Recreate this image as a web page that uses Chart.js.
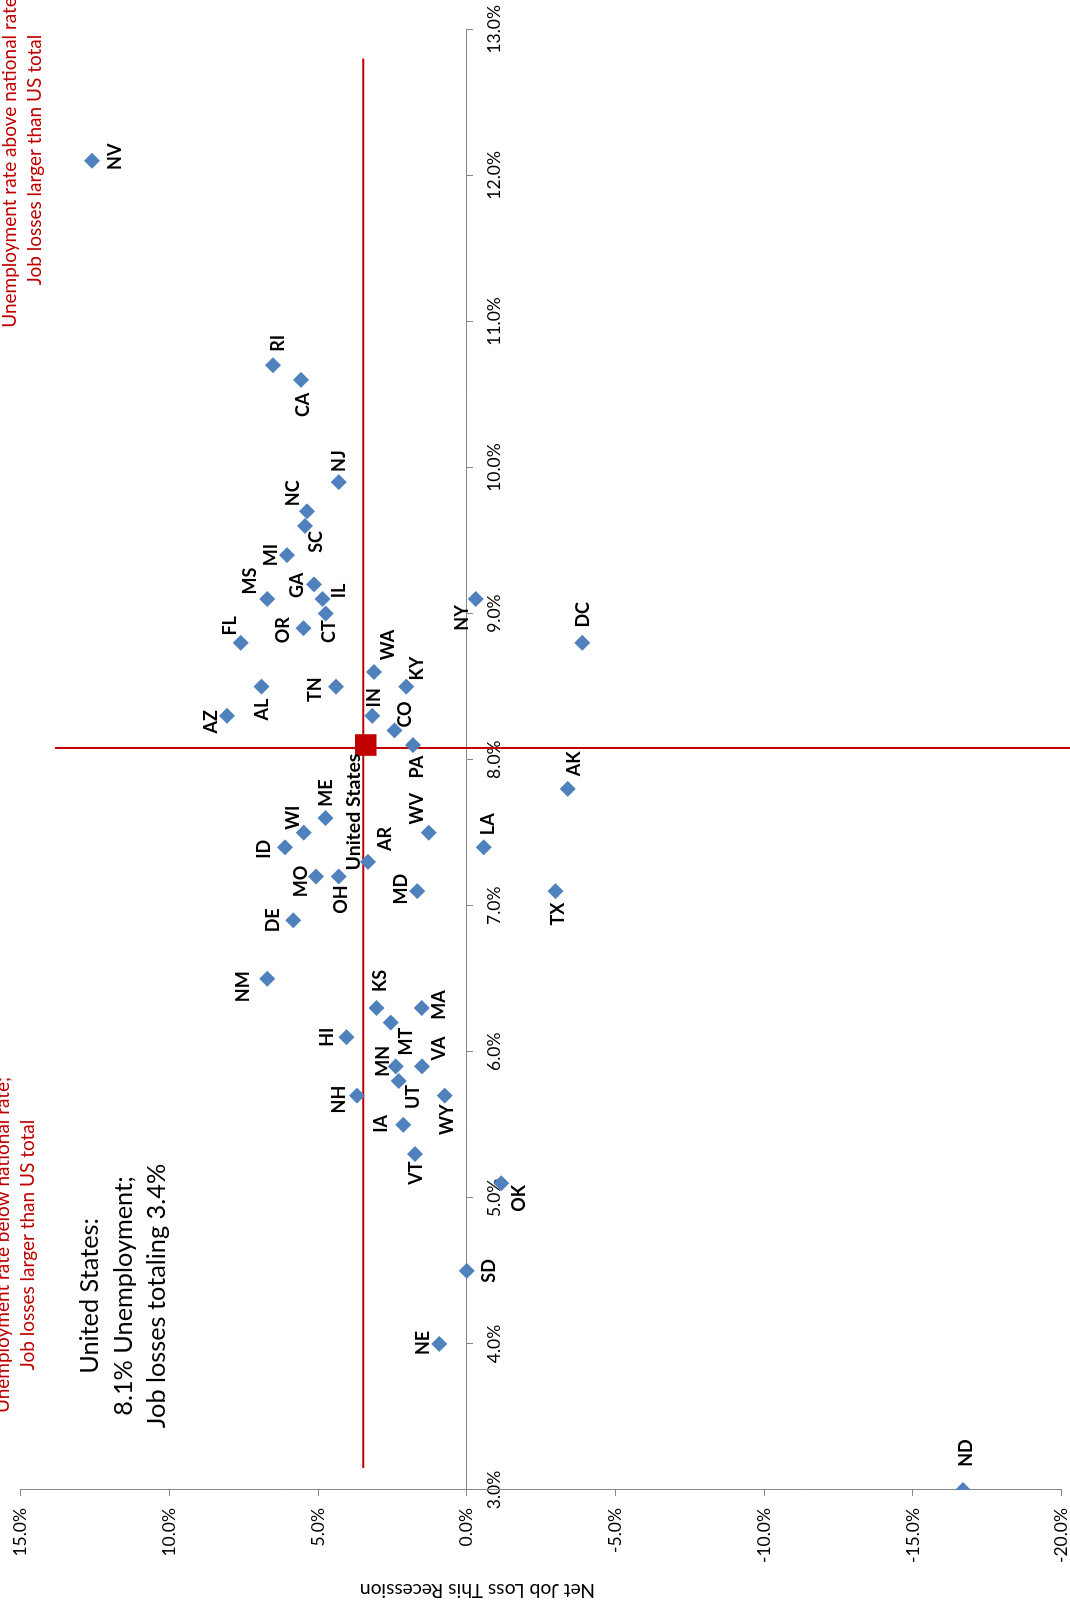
<!DOCTYPE html>
<html>
<head>
<meta charset="utf-8">
<script src="https://cdn.jsdelivr.net/npm/chart.js@4.4.1/dist/chart.umd.min.js"></script>
<style>
  html, body { margin: 0; padding: 0; background: #fff; }
  #page { position: relative; width: 1070px; height: 1610px; overflow: hidden; }
  /* chart is laid out landscape, then turned a quarter left like the original */
  #turn { position: absolute; left: 0; top: 0; width: 1610px; height: 1070px;
          transform-origin: 0 0; transform: translateY(1610px) rotate(-90deg); }
</style>
</head>
<body>
<div id="page"><div id="turn"><canvas id="myChart" width="1610" height="1070"></canvas></div></div>
<script>
const states = ['NV','RI','CA','NJ','NC','SC','MI','GA','MS','IL','NY','CT','OR','FL','DC','WA','AL','TN','KY','AZ',
  'IN','CO','PA','AK','ME','WI','WV','ID','LA','AR','MO','OH','MD','TX','DE','NM','KS','MA','MT','HI',
  'MN','VA','UT','NH','WY','IA','VT','OK','SD','NE','ND'];
const unemployment = [12.1,10.7,10.6,9.9,9.7,9.6,9.4,9.2,9.1,9.1,9.1,9.0,8.9,8.8,8.8,8.6,8.5,8.5,8.5,8.3,
  8.3,8.2,8.1,7.8,7.6,7.5,7.5,7.4,7.4,7.3,7.2,7.2,7.1,7.1,6.9,6.5,6.3,6.3,6.2,6.1,
  5.9,5.9,5.8,5.7,5.7,5.5,5.3,5.1,4.5,4.0,3.0];
const jobLoss = [12.6,6.52,5.58,4.31,5.37,5.44,6.05,5.14,6.71,4.85,-0.30,4.74,5.49,7.60,-3.88,3.12,6.90,4.40,2.04,8.06,
  3.18,2.43,1.81,-3.39,4.75,5.48,1.28,6.11,-0.57,3.32,5.07,4.31,1.67,-2.98,5.84,6.71,3.04,1.52,2.56,4.05,
  2.39,1.51,2.29,3.69,0.74,2.14,1.74,-1.16,0.0,0.93,-16.68];

const usName = 'United States';
const usUnemployment = 8.1;
const usJobLoss = 3.4;

// red guide lines
const jobLineX = [3.15, 12.8];
const jobLineY = [3.48, 3.48];
const rateLineX = [8.08, 8.08];
const rateLineY = [13.85, -21];

const rateTicks = [3,4,5,6,7,8,9,10,11,12,13];
const lossTicks = [-20,-15,-10,-5,0,5,10,15];

const topNote = ['Unemployment rate above national rate;', 'Job losses larger than US total'];
const bottomNote = ['Unemployment rate below national rate;', 'Job losses larger than US total'];
const summary = ['United States:', '8.1% Unemployment;', 'Job losses totaling 3.4%'];
const lossTitle = 'Net Job Loss This Recession';

// where each state's label sits next to its marker (px, landscape frame)
const labelShift = [[4,23],[22,5],[-25,2],[21,1],[18,-14],[-16,11],[0,-16],[-1,-17],[18,-17],[8,17],
  [-19,-14],[-18,3],[-2,-20],[17,-11],[28,1],[27,14],[-23,1],[-3,-21],[18,11],[-6,-16],
  [18,2],[16,11],[-22,4],[25,7],[25,1],[15,-11],[24,-12],[-2,-21],[23,4],[23,17],
  [-5,-15],[-23,3],[2,-16],[-23,3],[0,-20],[-8,-24],[27,4],[3,18],[-19,15],[0,-19],
  [5,-13],[18,17],[-16,14],[-4,-18],[-24,2],[1,-22],[-19,1],[-15,18],[0,22],[1,-16],[37,3]];
const usShift = [-67,-12];

const pct = v => Number(v).toFixed(1) + '%';

const pointLabels = {
  id: 'pointLabels',
  afterDatasetsDraw(chart) {
    const ctx = chart.ctx;
    ctx.save();
    ctx.font = 'bold 18px Lato';
    ctx.fillStyle = '#000';
    ctx.textAlign = 'center';
    ctx.textBaseline = 'middle';
    chart.getDatasetMeta(1).data.forEach((pt, i) => {
      ctx.fillText(states[i], pt.x + labelShift[i][0], pt.y + labelShift[i][1]);
    });
    const us = chart.getDatasetMeta(0).data[0];
    ctx.font = 'bold 19.5px Lato';
    ctx.fillText(usName, us.x + usShift[0], us.y + usShift[1]);
    ctx.restore();
  }
};

const notes = {
  id: 'notes',
  afterDraw(chart) {
    const ctx = chart.ctx;
    ctx.save();
    ctx.textAlign = 'center';
    ctx.textBaseline = 'alphabetic';
    ctx.fillStyle = '#C00000';
    ctx.font = '19px Lato';
    ctx.fillText(topNote[0], 1450, 16);
    ctx.fillText(topNote[1], 1450, 41);
    ctx.fillText(bottomNote[0], 365, 9);
    ctx.fillText(bottomNote[1], 365, 34);

    ctx.fillStyle = '#000';
    ctx.font = '25.3px Lato';
    ctx.fillText(summary[0], 314, 98);
    ctx.fillText(summary[1], 314, 131.5);
    ctx.fillText(summary[2], 314, 165);

    ctx.font = '19.2px Lato';
    ctx.translate(26, 477.5);
    ctx.rotate(-Math.PI / 2);
    ctx.fillText(lossTitle, 0, 0);
    ctx.restore();
  }
};

function draw() {
  const ctx = document.getElementById('myChart').getContext('2d');
  new Chart(ctx, {
    type: 'scatter',
    data: {
      datasets: [
        {
          label: usName,
          data: [{x: usUnemployment, y: usJobLoss}],
          pointStyle: 'rect',
          pointRadius: 15.3,
          backgroundColor: '#C00000',
          borderWidth: 0,
          order: 0
        },
        {
          label: 'States',
          data: states.map((s, i) => ({x: unemployment[i], y: jobLoss[i]})),
          pointStyle: 'rectRot',
          pointRadius: 8,
          backgroundColor: '#4F81BD',
          borderWidth: 0,
          order: 1
        },
        {
          label: 'US job loss',
          data: jobLineX.map((v, i) => ({x: v, y: jobLineY[i]})),
          showLine: true,
          pointRadius: 0,
          borderColor: '#C00000',
          borderWidth: 2,
          order: 2
        },
        {
          label: 'US rate',
          data: rateLineX.map((v, i) => ({x: v, y: rateLineY[i]})),
          showLine: true,
          pointRadius: 0,
          borderColor: '#C00000',
          borderWidth: 2,
          clip: false,
          order: 2
        }
      ]
    },
    options: {
      responsive: false,
      animation: false,
      devicePixelRatio: 1,
      layout: { autoPadding: false, padding: { left: 0, top: 20.7, right: 29.3, bottom: 8.3 } },
      plugins: { legend: { display: false }, tooltip: { enabled: false } },
      scales: {
        x: {
          type: 'linear',
          position: { y: 0 },
          min: 3, max: 13,
          afterBuildTicks: s => { s.ticks = rateTicks.map(v => ({value: v})); },
          afterFit: s => { s.height = 0; s.paddingLeft = 0; s.paddingRight = 0; s.paddingTop = 0; s.paddingBottom = 0; },
          grid: { drawOnChartArea: false, color: '#868686', tickLength: 6 },
          border: { color: '#868686', width: 1 },
          ticks: { callback: pct, color: '#000', font: { family: 'Lato', size: 17.5 }, padding: 11, maxRotation: 0 }
        },
        y: {
          type: 'linear',
          min: -20, max: 15,
          afterBuildTicks: s => { s.ticks = lossTicks.map(v => ({value: v})); },
          afterFit: s => { s.width = 120; s.paddingLeft = 0; s.paddingRight = 0; s.paddingTop = 0; s.paddingBottom = 0; },
          grid: { drawOnChartArea: false, color: '#868686', tickLength: 6 },
          border: { color: '#868686', width: 1 },
          ticks: { callback: pct, color: '#000', font: { family: 'Lato', size: 17.5 }, padding: 12 }
        }
      }
    },
    plugins: [pointLabels, notes]
  });
}

document.fonts.load('bold 18px Lato').then(draw, draw);
</script>
</body>
</html>
